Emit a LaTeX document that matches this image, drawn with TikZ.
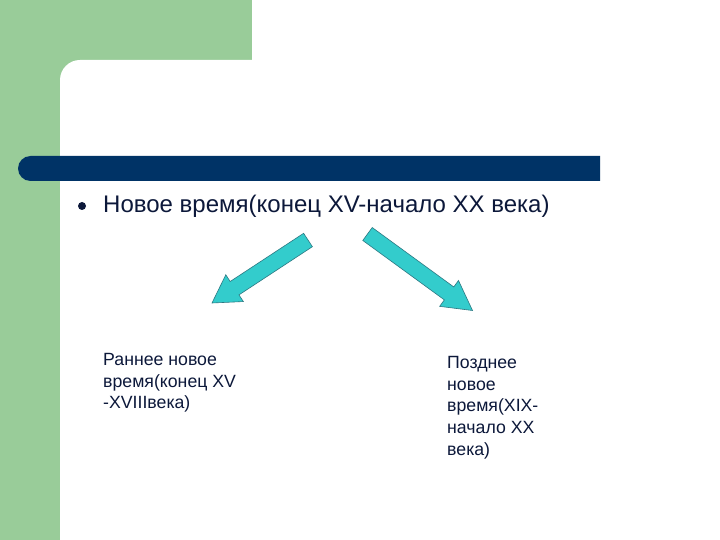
\documentclass[tikz,border=0pt]{standalone}
\usepackage{fontspec}
\setmainfont{Liberation Sans}
\usepackage{tikz}
\usetikzlibrary{calc}

\definecolor{slidegreen}{RGB}{153,204,153}
\definecolor{barblue}{RGB}{0,51,102}
\definecolor{inkblue}{RGB}{12,24,58}
\definecolor{arrowfill}{RGB}{51,204,204}
\definecolor{arrowline}{RGB}{45,120,130}

\newcommand{\blockarrow}[4]{% tail, tip, head length, head half width
\filldraw[arr] ($(#1)!8pt!90:(#2)$) -- ($($(#2)!#3!(#1)$)!8pt!-90:(#1)$)
  -- ($($(#2)!#3!(#1)$)!#4!-90:(#1)$) -- (#2)
  -- ($($(#2)!#3!(#1)$)!#4!90:(#1)$) -- ($($(#2)!#3!(#1)$)!8pt!90:(#1)$)
  -- ($(#1)!8pt!-90:(#2)$) -- cycle;}

\begin{document}
\begin{tikzpicture}[x=1pt, y=-1pt,
  arr/.style={fill=arrowfill, draw=arrowline, line width=0.6pt, line join=miter},
  maintext/.style={text=inkblue, inner sep=0pt, font=\fontsize{24}{28}\selectfont},
  subtext/.style={text=inkblue, inner sep=0pt, align=left, font=\fontsize{17.7}{21.7}\selectfont}]
\useasboundingbox (0,0) rectangle (720,540);
\fill[white] (0,0) rectangle (720,540);
\fill[slidegreen] (0,0) rectangle (252,60);
\fill[slidegreen] (0,0) rectangle (60,540);
\fill[slidegreen] (60,60) rectangle (82,82);
\fill[white, rounded corners=20pt] (60,60) rectangle (760,580);
\fill[barblue] (600,156) -- (30.5,156) arc[start angle=90, end angle=270, radius=12.5pt] -- (600,181) -- cycle;

\node[circle, fill=inkblue, minimum size=8pt, inner sep=0pt] (bul) at (82,206) {};
\node[maintext, anchor=base west] (title) at (103,213) {Новое время(конец XV-начало XX века)};

\node[subtext, anchor=north west] (early) at (103,353) {Раннее новое\\время(конец XV\\-XVIIIвека)};
\node[subtext, anchor=north west] (late) at (447,356) {Позднее\\новое\\время(XIX-\\начало XX\\века)};

\coordinate (lt) at (308,240);
\coordinate (lh) at (212,303);
\coordinate (rt) at (367.5,234);
\coordinate (rh) at (472.5,310.5);
\blockarrow{lt}{lh}{27pt}{16pt}
\blockarrow{rt}{rh}{29pt}{16pt}
\end{tikzpicture}
\end{document}
